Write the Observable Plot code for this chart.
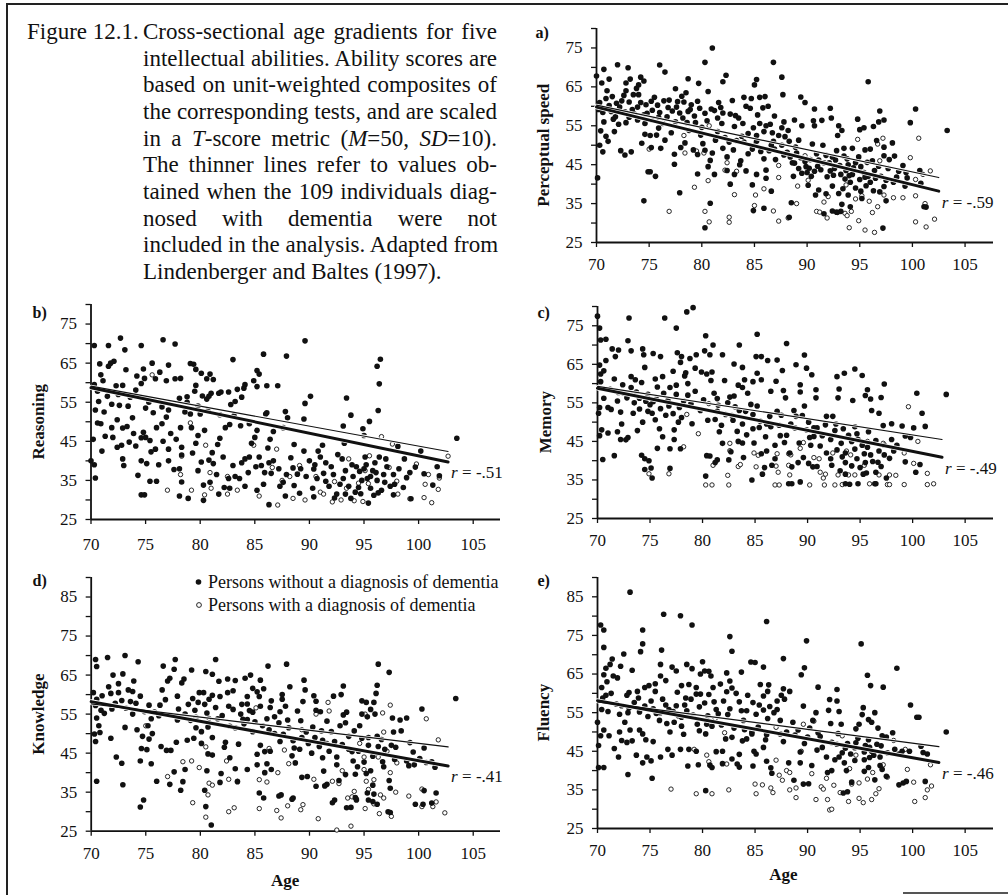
<!DOCTYPE html>
<html><head><meta charset="utf-8">
<script src="https://cdn.jsdelivr.net/npm/d3@7"></script>
<script src="https://cdn.jsdelivr.net/npm/@observablehq/plot@0.6"></script>
<style>
body{margin:0;background:#fff;}
#page{position:relative;width:1008px;height:895px;overflow:hidden;background:#fff;font-family:"Liberation Serif","Times New Roman",serif;color:#111;}
.panel{position:absolute;}
.panel svg{overflow:visible;}
.cap{position:absolute;font-size:23px;line-height:26.67px;}
.cap .ln{white-space:nowrap;text-align:justify;text-align-last:justify;width:354px;}
.cap .ln.last{text-align-last:left;}
.legtxt{position:absolute;font-size:18px;line-height:23px;white-space:nowrap;}
.rule{position:absolute;background:#222;}
</style>
</head><body><div id="page"></div>
<script>
// ---------- shared tick values ----------
const ageTicks = [70, 75, 80, 85, 90, 95, 100, 105];
const scoreTicks80 = [25, 30, 35, 40, 45, 50, 55, 60, 65, 70, 75, 80];
const scoreLabels80 = [25, 35, 45, 55, 65, 75];
const scoreTicks90 = [25, 30, 35, 40, 45, 50, 55, 60, 65, 70, 75, 80, 85, 90];
const scoreLabels90 = [25, 35, 45, 55, 65, 75, 85];
const titles = ["Perceptual speed", "Reasoning", "Memory", "Knowledge", "Fluency"];
const letters = ["a)", "b)", "c)", "d)", "e)"];
const rValues = ["-.59", "-.51", "-.49", "-.41", "-.46"];
const legendLabels = ["Persons without a diagnosis of dementia", "Persons with a diagnosis of dementia"];

// ---------- a) Perceptual speed: [age, score] ----------
const speedNo = [[81,75],[80.3,71.3],[86.8,71.3],[72,70.7],[76,70.6],[73,69.9],[70.7,69.5],[76.5,68.8],[82.3,68],[87.6,67.5],[70,67.8],[71.2,67],[73.2,67],[74.2,67.5],[74.5,66.5],[78.7,67.1],[82,66.3],[85.2,66.9],[95.8,66.3],[79.7,65.9],[70.5,66],[72.8,66],[74,65.5],[85,65.5],[71,64],[72.8,64],[77.5,64.5],[78.5,63.5],[80.6,63.8],[73.5,63],[74,63],[84,62.3],[84.7,62],[85.5,62.3],[86,62.5],[87.7,63],[89.4,62.4],[89.8,61],[92.2,59.5],[90.7,59.3],[96.9,58.8],[100.3,59.3],[99.8,55.8],[97.3,56.5],[94.8,56.7],[92.3,57],[90.6,56.3],[89.5,55],[93,55],[93.3,53.8],[95,54],[95.4,54.5],[96.3,54.8],[96.6,51.2],[98.1,50.6],[97.3,49.5],[96,49],[95.5,48.8],[94.3,49.2],[93.5,49.2],[92.8,48.6],[92.4,47],[93.5,47.2],[93.8,46.5],[97.3,47.3],[98.3,47.2],[97.8,46.3],[99.1,44.8],[100.7,43.5],[100.8,40.2],[101.1,34.2],[101.3,34.1],[99.5,41.6],[99.3,39.5],[97.5,35.7],[97.2,28.7],[96.3,38.3],[95.6,39.6],[95,41.2],[94,42.2],[93,37.6],[93.3,34.8],[93.2,33],[92.4,33.1],[91.6,32.4],[91.8,37.5],[91.9,41.9],[90.8,37.2],[90.7,43.3],[89.9,44.5],[89.5,42.8],[88.7,42],[88.5,35.2],[88.3,31.5],[88.6,45.5],[87.8,47.5],[87.6,50],[87.3,52.5],[87.6,54.5],[86.8,51],[86.9,57.5],[86.5,55.4],[87.8,56],[86.1,55],[85.9,53.5],[85.2,51],[85,50],[84.8,49],[84.4,53],[84.9,54.5],[84.2,60],[84.6,59.5],[83.5,57],[83.1,54.8],[82.9,61.5],[82.7,58],[82,58.3],[81.5,57],[81.5,53.5],[81.3,51.3],[82.2,52],[82.6,50.8],[83.8,52.3],[83.7,46],[82.4,47],[82.4,43.5],[82.7,40],[83.1,42.5],[84.2,43.4],[85.2,42.5],[84.8,39.8],[84.9,33.2],[85.9,33.8],[86.6,38.2],[86.1,41.5],[86.1,43.6],[81.2,42.5],[80.8,35.1],[80.3,28.8],[80.6,44.5],[80.3,48.7],[80.1,50.4],[80,54.6],[80.5,56.3],[79.8,59.5],[79.6,61.3],[79,60.4],[78.3,61.1],[78.1,62.6],[77.6,59.8],[76.9,61.6],[76.4,61.4],[75.5,62.3],[75.2,61.3],[74.7,60.4],[74.2,61],[73.9,59.8],[73.1,61.1],[72.4,61.4],[71.9,60.8],[71.4,58.7],[70.3,61],[70.6,58.4],[70.9,62],[72.7,58.6],[73.6,58],[75.3,59],[76,58.4],[77.2,58.8],[77.9,58.3],[78.7,58.7],[79.3,57.5],[75.3,56.5],[74.6,55.6],[73.9,56.5],[72.8,55.8],[72.1,55.4],[71.7,53.5],[70.4,53.7],[70.9,52.3],[70.3,50],[70.6,48.3],[71.1,51],[72.3,48.6],[72.7,47.5],[73.3,48.3],[74.3,50.5],[74.6,52.8],[75.1,52.5],[75.7,52.6],[75.2,49.4],[75.1,43.2],[74.9,43.2],[75.6,42],[74.5,35.7],[70.1,41.6],[76.1,49.2],[76.5,51.3],[77.1,53.2],[77.4,45.1],[77.4,47.7],[77.9,37.8],[78,49.4],[78.4,50.6],[78.8,53.8],[79.2,48.8],[79.6,47.6],[79.6,42.6],[80.8,46.1],[81.6,61],[81.2,58.9],[83.2,57.6],[83.6,45],[86.4,48.6],[86.6,50],[87.9,52.2],[88.8,45.4],[89.2,44],[90,43],[90.4,42],[91.1,46.2],[91.6,45.5],[92.1,45.5],[92.6,44],[93.1,44.8],[93.7,43.5],[94.3,42.5],[94.6,45.5],[95.1,44.5],[95.4,43],[95.8,42],[96,40.5],[96.4,43.5],[97,42],[97.7,44],[98.7,43.3],[94.1,40.5],[93.4,38.8],[95.2,36.3],[96.9,38],[94.1,34.2],[92.8,32.8],[91.1,38.5],[90.2,44.1],[90.5,50.3],[90.7,55],[91.4,56.4],[92.9,52.5],[91.5,50],[88.9,49.5],[89,48],[88.2,53.8],[88.8,56.5],[85.5,55.6],[86.3,60],[85.8,59.6],[85.2,52.5],[103.3,53.8],[96.8,56],[71.5,62.5],[72.2,59.8],[73.4,59.2],[74.8,58.2],[75.8,60.3],[76.8,59.7],[77.7,61.2],[78.9,59.2],[79.4,55.8],[80.9,59.3],[81.9,55.6],[83.3,51.2],[84,50.8],[85.6,48.4],[86.9,49],[88.1,48.2],[89.4,46.8],[90.9,47.8],[91.8,47.4],[92.7,46.2],[93.9,45],[94.9,47],[96.2,46],[96.8,44.6],[97.5,41],[98.2,40.5],[95.5,41.8],[94.6,39],[93.6,41.3],[92.5,42.3],[91.3,43.7],[90.3,46.3],[89.2,51.3],[88.3,51],[87,46.3],[85.9,46.5],[84.4,47.8],[83,48.8],[82,49.2],[81,48],[79.9,52.6],[78.6,55.8],[77.5,56],[76.3,55.6],[75.9,54.4],[74.5,57.8],[73.1,57.2],[71.6,56.7],[70.7,56],[70.2,59.2],[71.2,60.2],[71.8,57.3],[72.6,62.8],[73.8,64.6],[75.9,57.2],[76.7,57.3],[78.2,57],[80.3,58.2],[81.8,59.7],[83.9,55.6],[85.3,57.8],[86.7,53.2],[88.4,47],[89.8,45.8],[91,44.6],[92.2,43.4],[93.2,42.5],[94.4,44.2],[95.7,45.6],[96.5,41.5],[97.3,39.4],[98.5,41.8],[99.4,43],[95.1,38.2],[93.9,37.2],[92.4,39.5],[90.1,39.7]];
const speedDem = [[80.7,55],[78.3,52.5],[78.4,48],[79.5,48.5],[80.2,48],[75,49],[79.3,39.2],[76.9,33],[80.3,33],[80.7,30.3],[80.6,40.9],[82.6,31.5],[82.6,30.2],[82.2,43.6],[82.4,45.5],[83.1,37.3],[83.3,43.3],[85.1,37.2],[85,34.5],[85.9,38.8],[86.8,33.1],[87.3,30.5],[87.3,44.8],[87.3,41.7],[88.2,31.3],[89,35],[89.1,39.5],[89.8,47.3],[90.1,41],[90.9,33],[91.2,32.8],[91.6,35.4],[91.9,31.3],[92,36.8],[92.9,32.7],[93.6,32.5],[93.8,31.9],[93.7,39.8],[94,28.8],[94.2,33],[94.6,36.2],[94.9,30.6],[94.8,51.5],[95.2,37],[95.5,28.2],[95.9,35.6],[96.2,32.7],[96.4,27.6],[96.9,46],[96.7,34.2],[96.7,50.3],[97.2,51.8],[97.3,37.2],[98.2,36.5],[99.1,36.5],[99.8,46.8],[100.3,41.2],[100.3,37],[100.3,30.3],[100.6,51.8],[101.2,35],[101.3,29],[101.7,43.4],[102.1,31],[101,42.5]];
const speedFitAll = [[70, 59.8], [102.5, 38.2]];
const speedFitNoDem = [[70, 60.3], [102.5, 41.7]];

// ---------- b) Reasoning ----------
const reasonNo = [[70.3,69.5],[71.6,69.5],[72.7,71.4],[73.1,68.4],[74.6,69.5],[76.6,71],[77.7,69.9],[89.6,70.7],[83,65.9],[85.8,67.3],[87.9,66.8],[96.5,66],[96.2,64.2],[96.4,59.7],[96.3,52.9],[93.4,56.1],[93.8,51.7],[93.1,48.9],[95.5,50.1],[94.9,48.2],[95,46.5],[89.6,54.7],[90.1,56.5],[89.5,50.7],[87.1,59.2],[86.1,59.2],[87.8,52.6],[86,52],[85.2,63.1],[85.4,62.2],[84.9,60.5],[85.2,59],[84.1,59.5],[84,58.6],[83.4,58.3],[83.8,56.3],[83.2,55.2],[82.8,54.4],[81.9,57.6],[81.7,57.3],[81.2,60.8],[80.6,61],[80.1,62.4],[79.6,63.4],[79.4,64.7],[79.1,64.9],[80.9,62.2],[79.6,59.3],[79.5,57.8],[80.2,56.6],[80.6,55.8],[79.8,54],[78.8,55],[78.1,56],[77.7,61],[76.9,60.5],[77.1,64.5],[76.3,62.7],[75.9,61],[75.6,65],[74.8,63.5],[74.9,61.1],[74.6,59.8],[74.2,61.7],[74.1,58.1],[73.2,63.3],[72.9,59.3],[72.3,59.2],[72.1,65.5],[71.8,65],[71.6,64.2],[70.8,64.8],[70.9,62],[71.1,60.5],[70.3,59.5],[70.7,55.2],[70.4,53],[70.6,49.7],[70.9,49.5],[70.2,45.5],[70,40],[70.3,39],[70.4,35.6],[71,42.5],[71.3,46.3],[71.9,48.5],[72,46],[72.4,43.5],[72.8,44],[72.9,48.4],[73.3,48.8],[73.8,51],[73.4,54],[72.6,54.2],[71.9,54.5],[72.9,40.5],[73,38.8],[73.5,44.8],[74.1,43.8],[74.6,45.9],[74.8,47.3],[75,46],[74.3,36.3],[74.6,31.3],[74.9,31.3],[74.6,40],[75.1,39.3],[75.5,42.3],[75.9,43],[75.4,34.8],[76,34.8],[76.2,39],[76,48.5],[76.5,49.5],[75.7,52.3],[75.3,55],[77.1,53],[77.3,47],[77.1,43],[77.1,40],[77.6,37.8],[78.1,38],[78.3,41.5],[78.3,43.5],[78.2,48.5],[78.6,52.5],[79.2,48.5],[79.6,44.5],[79.8,46.5],[78.3,34.6],[78.1,31],[78.9,30.4],[79.8,37.5],[80.1,39.7],[80.3,33.8],[80.3,29.9],[80.9,34.5],[81.2,39.3],[81.1,42.1],[81.6,44.2],[81.8,45.8],[82.3,48.5],[82.1,41],[82.2,33.2],[82.7,33],[83,38.8],[83.2,36],[83.6,35.5],[83.7,49],[84.1,40.5],[84.5,41],[84.7,44.5],[85,46],[85.2,47.8],[85.4,41],[85.6,38.8],[85.9,37],[85.8,34],[85.2,32.5],[86.3,28.8],[86.5,36.8],[86.7,40],[87.3,33.5],[87.6,34.5],[87.9,36.5],[87.6,48.5],[88.3,40.8],[88.6,33.7],[88.9,36.6],[89.2,38],[89.5,42.5],[90,40],[90.4,37.9],[90.4,30.8],[90.7,35.5],[91,41],[91.2,44],[91.5,39.5],[91.8,33.5],[92.2,36.5],[92.5,31.5],[92.8,34],[93,40.5],[93.3,37.5],[93.6,33.5],[93.8,30.4],[94,36],[94.2,32],[94.5,33.2],[94.7,31.6],[95,38],[95.1,41],[95.3,35.5],[95.4,29.2],[95.6,33],[95.8,37.5],[96,39.5],[96.2,35],[96.4,41],[96.6,32.5],[96.9,34.5],[97.1,38.5],[97.4,33.5],[97.7,31.3],[97.7,36.5],[98.2,38],[98.7,40.5],[98.1,43.7],[99.2,37],[99.3,30.3],[100.2,42.5],[101.3,33.8],[101.7,38.5],[101.9,36.2],[103.5,45.8],[92.3,30.5],[93.2,44.5],[86.2,43.3],[86.7,47.5],[88,51],[86.1,52.3],[82.7,49.3],[81.8,51.8],[81,57.3],[80.8,56.5],[82.6,57.6],[80.4,47.8],[78.8,56.4],[78.2,61.1],[94.3,38.5],[95.2,39],[96.1,37],[96.8,36.5],[95.6,36],[94.8,35],[93.1,35.5],[92,38.5],[91.3,36.8],[90.5,39],[89.7,36],[88.5,38.2],[87.2,38],[86.3,39.5],[85.1,38.5],[84.4,37],[83.8,39.5],[82.6,35.5],[81.5,36.5],[80.8,40.2],[79.3,42],[77.8,45.5],[76.6,45],[75.4,45.2],[73.9,47],[72.4,50.5],[71.2,52.5],[76.5,53.8],[79.1,52],[80.7,52.8],[97.8,34],[98.6,33.2],[96.3,31.8],[93.9,39],[92.6,41.6],[90.8,42.5],[70.6,57.8],[71.5,56.5],[72.5,57],[73.6,56.3],[75,53.5],[76.9,51.2],[80,52],[83.1,51.5],[84.5,49.5],[86.4,45.5],[88.6,44.2],[90.3,33],[91.5,34.8],[93.3,31.5],[94.6,37.3],[95.9,31.2],[97,40.5],[98.9,35.7],[99.7,38.4],[100.5,36.7],[89.1,31.7],[87.8,31],[84.1,33.5],[81.7,31.5]];
const reasonDem = [[75.6,62],[79.1,49.7],[78.3,41.2],[78.2,36.5],[77,32.5],[79.2,32.5],[80.4,31.3],[80.5,44],[80.9,37],[81,33],[82.5,36],[82.5,31.5],[83.4,32.5],[84.9,44],[85.4,31],[86.6,38.3],[87,43],[87.5,35],[87.1,28.7],[88.2,36],[88.5,30.4],[89.1,38.8],[89.6,30],[90.6,36],[91,32],[91.3,31.5],[92.1,29.5],[92.3,34.7],[92.9,30],[93.4,33],[93.6,40.5],[94.1,29.8],[94.5,34.3],[94.9,29.6],[95.1,37.5],[95.4,34.2],[95.5,41.3],[96.6,46.2],[97.3,38.3],[97.6,44.3],[98,34.8],[98.1,31.5],[99.2,30.3],[99.8,39.2],[100.5,30.6],[100.6,34],[100.9,36.5],[101.2,29.3],[101.8,32.7],[101.9,35.6],[102.7,41.2]];
const reasonFitAll = [[70, 58.7], [102.7, 39.7]];
const reasonFitNoDem = [[70, 59.1], [102.7, 42.4]];

// ---------- c) Memory ----------
const memoryNo = [[70,77.5],[73,77],[76.4,77],[78.5,78.6],[79.1,79.7],[77.5,74.4],[70.2,74.4],[70.3,71.3],[70.8,71.5],[72.9,71.1],[71.4,69],[72,68.7],[73.2,68.5],[74.3,69],[74.4,67.5],[75.3,67.8],[76,67],[77.6,68],[78,67],[78.8,66.5],[79.4,67.5],[80.2,68.5],[80.7,67.5],[80.3,72.4],[81,70],[81.9,67.5],[83,65.1],[83.8,64.2],[83.5,70],[85.2,72.8],[85.1,67],[85.6,67],[86.2,66],[87.1,66.1],[88,70.4],[88.9,64.9],[89.7,67.4],[89.9,64],[90.4,62.3],[90.8,58.4],[90.8,56.3],[89.3,59.7],[89.3,57.8],[89.7,54.2],[87.9,56.3],[87.7,58.2],[87.6,63.4],[87,60.6],[86.5,58],[85.6,61],[85.2,62.7],[84.8,60.5],[92.8,61.8],[93.5,62.7],[94.5,63.8],[95.2,62.1],[93,58.6],[92.9,56.3],[94.3,55.6],[95.7,58.4],[95.5,56.9],[96,56],[97.3,59.9],[97,56.4],[96.1,53],[96.8,52.3],[97.2,49.1],[98,49.6],[99,49],[100.1,48.5],[100.4,57.5],[100.9,52.3],[101.2,48.9],[103.2,57.2],[99.3,46.4],[98,45.5],[98.2,42.5],[99.3,39.7],[100.7,39],[100.3,37],[97.3,44],[97.3,41.5],[97,38.5],[96.5,37],[96.7,39.6],[97.5,35.5],[96.5,34],[96,41.5],[95.7,43.5],[95.4,41.8],[95.6,36.8],[95.3,36.5],[95.5,39.5],[94.7,40.5],[94.5,43],[94.8,45.5],[94.5,48.8],[94.7,47],[93.9,46.6],[93.6,42],[93.2,44.5],[93.6,39.5],[93.6,36.5],[94,33.9],[93.6,34],[94.8,34],[96.4,34],[88.5,34],[88.2,34],[89.3,34.5],[92.6,47.8],[92.7,49.5],[92.4,51.5],[91.8,51.5],[92.2,45.5],[91.8,42],[92.2,40.5],[91.4,46.5],[90.9,48.5],[90.6,48.5],[90.1,50],[89.9,48],[90.9,38.5],[90.5,38.4],[90.1,39.3],[89.6,40.8],[89.1,39.5],[88.5,38.4],[87.8,44.7],[88.3,42],[87.4,46.5],[87.3,49.2],[88.4,49.5],[88.8,48.5],[86.4,51.5],[86.5,48.8],[86.9,40.5],[86.6,38.8],[86.1,42.5],[85.6,41.8],[85.9,38.2],[85.7,36.5],[84.7,35],[84.9,44.6],[85.4,48.6],[85.5,50.2],[84.8,52],[85.2,54.2],[84.6,54.6],[84.3,57.5],[84.8,48.3],[83.8,49.5],[83.4,45],[83.8,44.6],[83.9,40.8],[82.7,42.3],[82.5,40.2],[81.4,40.2],[81.2,39.5],[80.7,41.2],[80.4,41.3],[80.3,36],[81.9,44.5],[81.6,47.5],[81.8,49.2],[81.4,52.8],[82.2,52],[82.8,51.7],[82.9,50.5],[83.1,54],[83.5,53],[82.4,55],[82.6,56.5],[81.4,56.1],[81.1,57.5],[80.8,60.8],[80.4,62.5],[79.9,63],[79.3,64],[78.3,62],[78.6,60],[79.3,58],[78.6,57],[78.2,55.5],[77.8,53.8],[77.2,52.2],[77.7,50],[77.3,48],[77.3,45.5],[76.9,43.1],[77.9,43.1],[76.9,38],[75.2,35.5],[75.1,38.1],[74.5,37.7],[74.5,40.5],[74.9,40],[74.2,41.4],[75.7,43.2],[76.2,46.2],[75.9,48.3],[75.5,50.6],[74.8,52.8],[74.3,50],[73.8,47.8],[72.9,46],[72.7,45.4],[72.2,45.5],[71.6,41.3],[70.5,40.3],[70.2,46.5],[70.4,48],[71,47.2],[70.1,52.3],[70.2,53.8],[70.6,56.2],[71,53.8],[71.3,53.3],[71.9,55.5],[72.2,52.6],[72.3,49.5],[71.9,47.5],[73.4,52.3],[73.5,55],[74,56.2],[74.6,55.4],[75,54.5],[75.6,56],[76.3,57.5],[76.7,55.6],[72.5,57.5],[72.4,59.7],[71.6,61.2],[70.3,60.5],[70.3,62.5],[70.6,63.3],[70.2,64.8],[70.8,66],[71.7,67],[73.2,61.8],[73.6,61],[74.2,60.3],[74.5,64.2],[75.5,61.2],[76.2,61.8],[76.9,59],[77.5,59.6],[75.7,59.1],[77.2,63.2],[77.9,65.5],[78.4,62.8],[80.9,63],[82.1,60.8],[83.4,59.6],[83.8,59],[84,61],[72.8,56.3],[73.7,57.8],[74.8,57.2],[75.3,55.3],[76,53.5],[76.8,54.2],[78,51.2],[79,49.6],[79.8,53],[80.5,50.5],[81.2,50.7],[83.3,47.6],[84.2,46.7],[86,46.2],[86.9,44],[88,46.6],[89.2,44.6],[90.3,44],[91.2,43.8],[92.8,42.8],[93.3,41],[94.2,38.7],[95,38.2],[96.2,39.8],[97.8,40.6],[95.8,47.5],[96.5,45.2],[90.6,46.3],[89.5,51.7],[88.7,53],[87.5,51.8],[71.2,58.5],[72,57.7],[73.2,59],[74,53.4],[75.2,52.3],[76.5,51.8],[77.5,57.2],[78.9,54.8],[80.1,55.8],[81.5,54.4],[83,56.8],[84.1,52.8],[86.1,49.5],[87.1,52.8],[88.9,51.5],[90.2,46],[91.7,49.3],[93.4,48.3],[94.2,45],[95.2,44],[96.8,42.5],[98.5,44],[99.8,46],[93.1,37.4],[92.3,38.8]];
const memoryDem = [[74.9,36.6],[76.8,36.6],[78.2,43.6],[78.5,52],[79.6,47],[80.3,33.7],[80.9,33.7],[81,38.8],[80.6,54.8],[82.5,33.7],[82.4,36.2],[82.6,44.5],[82.6,42.6],[83.4,38.5],[83.6,39],[84.9,42],[85.1,38.4],[85.3,41.4],[87.1,41.8],[87,38.6],[87.2,37],[86.9,33.7],[87.3,33.7],[88.2,41.8],[88.4,41.5],[88.2,38.8],[88.3,36.3],[89.3,43.2],[89.6,44.7],[90.2,33.7],[90.6,40.8],[91.1,40.5],[91.2,37],[91.5,35.5],[91.7,36.5],[91.6,33.7],[92.6,33.7],[92.4,42],[92.9,36.3],[93.3,33.8],[93.9,36.3],[93.7,42.5],[94.1,41.5],[94.2,38.6],[94.5,36.3],[95.4,38.8],[95.7,45],[95.9,34],[96.8,36.3],[97.2,44.5],[97.8,36.3],[98.4,36.2],[97.6,33.8],[97.8,33.8],[99.2,33.8],[99.2,42],[99.6,54],[100.1,39.3],[100.5,45],[101.4,36.7],[101.4,33.8],[102,34]];
const memoryFitAll = [[70, 58.8], [102.8, 40.9]];
const memoryFitNoDem = [[70, 59.3], [102.8, 45.5]];

// ---------- d) Knowledge ----------
const knowNo = [[71.5,69.5],[70.4,69],[70.5,67.2],[73.1,70],[74.3,68.4],[76.6,67.3],[77.6,66.5],[77.7,69],[79.2,66.3],[81.4,69],[80.5,65.9],[81.1,65.2],[84.6,65],[86.2,67.3],[87.9,67.8],[89.5,63.7],[96.3,67.8],[97.3,65.7],[96.2,62.4],[96.1,60.3],[93.1,62.2],[92.2,59.6],[92.9,60],[89.6,61.2],[90.4,59.7],[90.6,58.3],[89.4,58.2],[88.2,62],[87.5,60],[87.5,58.8],[85.5,63.7],[85.8,61.5],[85.4,59.5],[85.5,57],[84.8,55.5],[84.3,53.6],[85,53],[84.8,50.5],[84,52.5],[85.5,47],[85.9,45.4],[85.2,44.7],[86.4,45.5],[86.1,42.3],[85.2,42],[86.3,51],[87.2,52.8],[87.6,49.8],[87.3,48],[86.5,40.8],[85.9,40],[85.4,34.8],[85.8,33.5],[87.2,34],[88.5,33.5],[88.4,44.3],[88.7,42.5],[88.6,46.3],[89.1,46],[89.8,39],[89.2,53.3],[89.7,50.4],[90.6,56],[91,55.6],[90.5,49],[91.1,50.7],[91.2,48.3],[91.2,43.8],[91.3,40.4],[91.6,37],[91.4,36.6],[90.6,36.5],[92.3,33],[92.1,32.3],[92.5,44],[92.5,42],[92.8,52],[93.1,54.8],[93.4,55.5],[93.6,49.3],[93.3,39.5],[93.8,31.1],[94.2,33.6],[94.2,39.6],[94.5,45.5],[94.6,52],[94.8,55],[94.8,58.4],[95.2,58],[95.3,54.3],[95.6,56.2],[96,55],[95.9,58],[96.2,49.3],[96.9,46],[96.3,46.7],[95.4,49],[95.4,47],[95.6,40.5],[95.2,39.8],[95.3,34.8],[95.4,33],[95.9,34.5],[95.8,32.6],[96.2,31.9],[96.8,41.5],[97.3,38],[97.4,36],[97.2,30],[97.5,47],[97.6,54],[97.7,50.4],[98.3,53.5],[98.4,50.7],[98.9,54],[99.2,47.7],[99.6,42],[99.1,41.8],[100.3,56.3],[100.5,46.3],[100.4,31.9],[100.5,35.4],[101.2,42.8],[101.6,34.8],[101.5,41.4],[101.2,32.2],[103.4,59],[89.3,38.8],[88.1,51.5],[87.3,55.6],[86.4,56.7],[86.5,58.4],[85.2,60.7],[84.8,61.6],[84.1,64.2],[84.3,59.5],[83.7,55],[83.2,51.5],[83.5,47.3],[83.9,53.7],[82.7,51.9],[82.6,57],[82.5,60.5],[83,61],[83.2,63.6],[82.5,64],[81.7,63.4],[81.1,59.8],[81.4,56.7],[81.6,53.8],[80.8,58.8],[80.4,57.5],[80.6,55.3],[80.3,60.5],[79.9,60.5],[79.3,59],[78.9,57.5],[79.5,56],[78.6,55],[78,56.3],[78.5,64],[78.3,63],[77.2,64.2],[77,63.5],[76.5,61.2],[76.3,57.3],[75.8,55.5],[75.5,53.8],[75.2,52],[75.6,50],[75.3,48.6],[75.1,45.9],[74.6,46.2],[74.5,43],[74.7,49.3],[74.2,51],[73.8,55],[74.1,57.8],[74.5,59.6],[73.8,60.8],[73.9,63.5],[73.4,61.2],[72.5,60.5],[72.9,65.3],[72,65],[72.5,62.8],[71.6,62],[71.9,56.3],[71.2,55.2],[70.5,58.8],[70.2,60.5],[70.4,57.2],[70.5,54],[70.7,52],[70.3,49.9],[70.4,48],[70.8,50.3],[70.5,37.8],[71.8,48.8],[72.3,44],[72.8,42.4],[73.1,51.6],[72.9,36.9],[74.5,31.2],[74.8,33],[75.5,42.3],[76,37.8],[76.4,46.7],[76.9,45.7],[77.3,45.7],[77.2,37],[77.6,40.2],[77.8,47.8],[78.2,35.5],[78.4,37.7],[78.6,40.8],[78.8,48.3],[79.4,48.8],[79.6,51.5],[80.1,50.5],[80.1,47.5],[80.7,44.8],[80.6,40.5],[80.4,35.5],[80.5,31.3],[81,26.6],[81.1,44.5],[81.1,49],[81.8,37.5],[81.9,39.8],[82.2,46.5],[82.3,47.8],[82.7,43.8],[83.2,41],[83.4,37.7],[84.3,40.8],[87.4,34.3],[88.4,33.2],[93.4,31],[94.3,33],[97.4,29.8],[99.7,31.9],[100.7,42.6],[92.7,38],[72.2,57.8],[73.2,56.5],[74.9,55.6],[76.2,54.6],[77.3,54.7],[77.9,53.5],[79.1,53.4],[79.8,58],[81.8,59.5],[83.8,57.5],[84.5,55.9],[86.1,53.8],[86.8,50],[88.5,48.2],[89.9,47.5],[90.2,45],[91.8,45.5],[93,47.2],[93.9,45.4],[94,43],[95,42.7],[95.8,44.2],[96.7,42.8],[97.8,43.4],[98.9,43],[92,50.5],[93.3,52.8],[94.1,50.7],[91.6,53.2],[90.3,51.7],[88.9,55.8],[87.8,57],[71,59.7],[71.8,60.3],[70.9,56],[72.8,58.5],[73.6,58.2],[75.3,57.3],[76.8,58.7],[77.9,59.6],[79.6,54.2],[80.7,51.7],[82,54.6],[83,56.2],[84.3,57.6],[85.7,52],[86.8,54.3],[88,53.5],[89.3,49],[90.9,46.7],[92.3,48],[93.6,46],[94.8,48.8],[96.6,48.5],[97.9,46.5],[99.5,45.3],[100.1,43.6],[94.4,41.5],[95.8,36.8]];
const knowDem = [[75,52],[77,39],[78.4,42.8],[79.2,43],[79.3,32.3],[79.9,41.3],[80.5,46.6],[80.5,28.6],[80.8,37.3],[81.1,36.8],[80.7,34.3],[80.8,53.9],[82.4,43],[82.6,38.3],[82.6,30],[83.1,31],[83.4,37.8],[85.1,56.6],[85.4,38.2],[86.1,37.6],[85.4,30.8],[86.3,46.2],[87.1,40],[87,30.3],[87.4,28.4],[87.7,45.8],[88,31.5],[88.1,42.3],[89.2,30.5],[89.4,31.8],[89.3,51],[90.6,55],[90.4,38.3],[90.8,28.2],[91.7,58],[91.8,55.8],[91.6,47.5],[92.1,37.8],[92.7,37.2],[92.5,25.3],[93,40.5],[93.5,33.5],[93.8,26.3],[93.9,33.8],[94.1,35.2],[94.3,33.3],[94.6,47.5],[95,44],[95,40.8],[95.2,37.8],[95.1,30.8],[95.1,55],[95.4,35.7],[95.9,38.2],[95.9,32],[96.4,29.5],[96.5,34.3],[96.8,33.5],[96.7,55.3],[96.3,44],[96.8,50.4],[97.1,45.5],[97.4,57.3],[97.5,28.8],[97.4,40],[97.9,35],[98,42.5],[99.1,34],[100.3,35.8],[100.3,31.3],[100.7,53.8],[101.3,31.3],[101.6,32.5],[101.8,48.4],[102.4,29.7]];
const knowFitAll = [[70, 58.2], [102.7, 41.7]];
const knowFitNoDem = [[70, 57.6], [102.7, 46.6]];

// ---------- e) Fluency ----------
const fluencyNo = [[73.1,86.2],[76.3,80.5],[77.9,80.1],[79,77.7],[86.1,78.6],[70.3,77.7],[70.6,76.4],[74.3,76.4],[74.3,72.8],[74.1,70.8],[70.6,71.9],[82.6,74.7],[82.8,70.9],[89.9,73.6],[95.1,72.8],[76.1,71.2],[72.5,70.2],[71.4,68.9],[71.2,67.5],[70.8,66.5],[72.2,67],[73.3,66],[76,67.5],[77.1,66.8],[77.5,65.8],[78.5,67.5],[79,66.4],[80,68.2],[80.6,65.7],[80.8,64.5],[79.8,65],[78.7,62.3],[79.4,61.5],[78,62],[77.6,60.3],[76.5,63.3],[76,64.5],[74.9,62],[74.5,61.5],[75.5,62.5],[75.5,60.5],[73.8,60.5],[73,60.2],[72.8,59.5],[71.5,64.5],[71.9,64],[70.9,63],[70.6,64.8],[70.4,61.5],[70.5,58.8],[70.8,59.5],[71.3,60],[70.4,55.8],[70,52.5],[70.6,50.5],[70.3,49],[70.1,46.5],[70.1,40.8],[70.6,40.8],[71.1,49],[71.6,45.7],[72,43.5],[72.3,47.8],[72.8,47.3],[72.1,50],[72.1,54.6],[72.6,52.5],[73.1,50.5],[73.3,47.7],[72.9,39],[73.7,44],[74,50.5],[74.3,49.5],[74.6,48],[74.3,42],[74.7,43.5],[75.1,42.5],[75.2,38],[75.3,47.5],[75.9,53],[76,55],[76.6,52.2],[76.9,50],[76.7,45.5],[77.1,44],[76,43.5],[77.3,52.5],[77.7,54.2],[78,51.5],[78.2,49.4],[77.9,45.5],[78.7,45.5],[79.4,45],[78.6,41.2],[79.7,50.3],[80.3,49.5],[80.4,52],[80.7,41.4],[79.6,41.5],[80.3,34.8],[80.9,40.8],[81.3,44.9],[81.9,45],[81.9,41.8],[82.2,48.2],[82.8,48.6],[82.8,43],[83.3,41.7],[83.5,40.9],[83.5,44.2],[83.8,47.7],[84.2,48.2],[84.7,49.5],[84.8,41.2],[84.9,45],[85.1,44.3],[85.8,46],[86.1,42.4],[86.5,40.7],[86.6,39.3],[86.1,49.3],[87.4,49.5],[87.7,47.5],[88.2,42],[88.7,37.5],[88.8,49.2],[89.1,50.5],[89.3,44.8],[89.3,42],[89.6,36.5],[90.1,36.6],[90.4,41.3],[90.9,45.3],[91.4,46],[91.8,43.5],[91.9,39.5],[92.3,40],[92.6,42.8],[92.8,46.8],[93.3,44.6],[93.5,42],[93.7,40],[93.4,34.2],[93.8,34.5],[94.2,37],[94.5,42.6],[94.5,45.9],[94.8,48.4],[94.6,50.8],[94.9,52],[95.2,54.5],[95.3,56.3],[95.8,53.2],[96.1,52.5],[96.4,55],[95.7,64.7],[96,62],[97.2,61.6],[96.7,51],[95.8,48],[95.5,46.5],[96.1,45],[95.4,44.8],[95.4,42.8],[96.3,44],[96.9,43.5],[96.9,41.3],[97.1,40.3],[96.4,37.6],[95.8,40.8],[95.4,39.8],[97.5,38.5],[97.5,48.7],[97.1,49],[98.1,49.8],[98.5,66.5],[99,45],[99.7,45],[99.1,36.8],[99.4,37.2],[98.7,36.3],[99.8,57],[100.4,53.8],[100.6,53.8],[100.8,46.3],[101,44.7],[101.2,37.2],[101.4,44.3],[103.2,50],[92,55.6],[92.1,58.4],[92.8,61],[92.8,58],[93,55.3],[93.2,52],[92.2,52.2],[91,61.6],[90.8,55],[90.5,53],[90.2,51],[89.6,56.7],[89.4,64.8],[89.7,66.6],[87.7,69],[87.7,61.2],[87.5,59.5],[88.3,60.5],[87.8,58.5],[87.1,58],[86.8,55],[87.4,53],[86.2,53.5],[85.8,55.7],[85.4,57],[85.8,59.3],[86.3,62.2],[85.5,62.3],[85.8,66.8],[85,68],[84.6,68.1],[84.3,59.5],[84.8,57.6],[84.2,55.5],[83.9,53],[83.7,55.5],[83.2,60],[82.8,61.4],[82.6,56],[82.3,60.4],[82,58],[81.7,62.4],[81.1,57.8],[80.6,59.7],[79.8,59.8],[79.4,59.8],[78.9,58.5],[78.4,58.8],[78.5,55.5],[77.5,56.8],[76.5,57],[75.3,56],[74.5,56.7],[73.5,57.6],[72.9,55],[83.7,65.5],[84.7,50],[85.3,51.3],[81.5,54.7],[80.9,51.5],[79.5,52],[80.2,65.8],[82.3,65.3],[82.6,63.2],[81,61.5],[71.8,57.2],[73,56.2],[74,55.2],[74.8,54],[75.6,54.8],[76.8,55.8],[78,53.8],[79.1,54.4],[80.5,54.2],[81.8,51.8],[83,51],[84,50.6],[86,48],[88,50],[90,48.7],[91.2,48.8],[92.3,47.3],[93.8,47],[94.1,44.3],[95.9,43.4],[97.6,44.6],[96.6,46.8],[98.3,45.5],[71,55.3],[72.3,56.8],[73.9,58.8],[75.1,58],[76.2,58.5],[77.2,55.3],[78.3,57],[79.7,56.5],[80.2,57.5],[81.3,55.8],[82.4,54.5],[83.5,57.8],[85.1,54.6],[86.4,56.6],[86.2,60.5],[87.1,55.8],[88.6,52.5],[89.7,47],[91,49.8],[92.9,49.6],[93.6,45.8],[94.6,47.2],[95.9,46],[97,46.4],[98.7,44.3],[93,43.5]];
const fluencyDem = [[77,35.2],[79.4,34],[80.9,34],[79.2,45.5],[80.4,44],[80.6,42.3],[81.2,53.5],[82.1,49.8],[82.3,41.7],[82.5,35],[85,36.5],[85.1,34],[85.7,36.3],[86.5,35.5],[86.7,34.3],[87,51.2],[87,42.7],[87.3,38.8],[87.6,37.5],[88,40],[88.3,39.5],[88.3,35],[88.9,33],[88.9,35.5],[89.4,45],[89.6,52],[90.4,39.2],[90.6,52.8],[90.8,32.5],[91.3,35.8],[91.8,38],[91.5,35.2],[91.9,32.5],[92.1,29.8],[92.3,30],[92.5,36.2],[93.1,34.3],[93.3,49],[94,40.5],[93.9,32],[94.2,36.5],[94.6,44],[94.9,36.8],[94.9,32.8],[95.3,31.7],[95.7,37.8],[96.2,39.5],[96.1,32.5],[96.5,34],[96.8,35.3],[97.2,41.5],[97.6,38.3],[98.2,47.8],[99.3,45.5],[99.5,40.3],[100.1,37],[100.2,32],[101.2,33],[101.4,35],[101.8,36],[101.7,41.5]];
const fluencyFitAll = [[70, 58.1], [102.5, 42.1]];
const fluencyFitNoDem = [[70, 57.8], [102.5, 46.2]];

// ---------- drawing ----------
const page = document.getElementById("page");
const X = d => d[0], Y = d => d[1];
const INK = "#111";

function drawPanel(c) {
  const end = c.fitAll[c.fitAll.length - 1];
  const svg = Plot.plot({
    width: c.width, height: c.height,
    marginLeft: c.mL, marginRight: c.mR, marginTop: c.mT, marginBottom: c.mB,
    x: {domain: c.xDomain},
    y: {domain: c.yDomain},
    style: {fontFamily: "'Liberation Serif', 'Times New Roman', serif", fontSize: "17px", color: INK, background: "transparent", overflow: "visible"},
    marks: [
      Plot.axisX({ticks: ageTicks, tickSize: 5, tickPadding: c.xPad, tickFormat: d => String(d), label: null, strokeWidth: 1.3}),
      Plot.axisY({ticks: c.yTicks, tickSize: 5, tickPadding: 9, tickFormat: d => c.yLabels.includes(d) ? String(d) : "", label: null, strokeWidth: 1.3}),
      Plot.ruleX([70], {stroke: INK, strokeWidth: 1.8}),
      Plot.ruleY([25], {stroke: INK, strokeWidth: 1.8}),
      Plot.dot(c.dem, {x: X, y: Y, r: 2.2, fill: "white", stroke: INK, strokeWidth: 0.9}),
      Plot.dot(c.no, {x: X, y: Y, r: 2.8, fill: INK, stroke: "none"}),
      Plot.line(c.fitNoDem, {x: X, y: Y, stroke: "white", strokeWidth: 2.8}),
      Plot.line(c.fitAll, {x: X, y: Y, stroke: "white", strokeWidth: 4.6}),
      Plot.line(c.fitAll, {x: X, y: Y, stroke: INK, strokeWidth: 3}),
      Plot.line(c.fitNoDem, {x: X, y: Y, stroke: INK, strokeWidth: 1.2}),
      Plot.text([end], {x: X, y: Y, text: () => "r", dx: 3, dy: 11, textAnchor: "start", lineAnchor: "middle", fontStyle: "italic", fontSize: 17}),
      Plot.text([end], {x: X, y: Y, text: () => "= " + c.r, dx: 14, dy: 11, textAnchor: "start", lineAnchor: "middle", fontSize: 17}),
      Plot.text([c.title], {frameAnchor: "left", y: () => c.titleY, dx: c.titleDx, rotate: -90, textAnchor: "middle", lineAnchor: "middle", fontWeight: "bold", fontSize: 17}),
      Plot.text([c.letter], {frameAnchor: "top-left", dx: c.letterDx, dy: c.letterDy, textAnchor: "start", lineAnchor: "middle", fontWeight: "bold", fontSize: 16}),
      ...(c.age ? [Plot.text(["Age"], {x: () => 87.5, frameAnchor: "bottom", dx: c.ageDx, dy: c.ageDy, lineAnchor: "middle", fontWeight: "bold", fontSize: 17})] : [])
    ]
  });
  const div = document.createElement("div");
  div.className = "panel";
  div.style.left = c.left + "px";
  div.style.top = c.top + "px";
  div.appendChild(svg);
  page.appendChild(div);
}

drawPanel({left: 500, top: 0, width: 508, height: 300, mL: 96, mR: 15, mT: 28, mB: 58, xDomain: [70, 107.7], yDomain: [25, 80], yTicks: scoreTicks80, yLabels: scoreLabels80, xPad: 10,
  no: speedNo, dem: speedDem, fitAll: speedFitAll, fitNoDem: speedFitNoDem, r: rValues[0], title: titles[0], titleY: 50, titleDx: -53, letter: letters[0], letterDx: -61, letterDy: 4});
drawPanel({left: 0, top: 290, width: 505, height: 300, mL: 90.5, mR: 5, mT: 14, mB: 71, xDomain: [70, 107.5], yDomain: [25, 80], yTicks: scoreTicks80, yLabels: scoreLabels80, xPad: 13,
  no: reasonNo, dem: reasonDem, fitAll: reasonFitAll, fitNoDem: reasonFitNoDem, r: rValues[1], title: titles[1], titleY: 50, titleDx: -52.5, letter: letters[1], letterDx: -58.5, letterDy: 8});
drawPanel({left: 500, top: 290, width: 508, height: 300, mL: 97, mR: 15, mT: 16, mB: 72, xDomain: [70, 107.7], yDomain: [25, 80], yTicks: scoreTicks80, yLabels: scoreLabels80, xPad: 10,
  no: memoryNo, dem: memoryDem, fitAll: memoryFitAll, fitNoDem: memoryFitNoDem, r: rValues[2], title: titles[2], titleY: 50, titleDx: -52, letter: letters[2], letterDx: -60, letterDy: 6});
drawPanel({left: 0, top: 570, width: 505, height: 325, mL: 90.7, mR: 5, mT: 7, mB: 64.3, xDomain: [70, 107.5], yDomain: [25, 90], yTicks: scoreTicks90, yLabels: scoreLabels90, xPad: 11,
  no: knowNo, dem: knowDem, fitAll: knowFitAll, fitNoDem: knowFitNoDem, r: rValues[3], title: titles[3], titleY: 55, titleDx: -52.7, letter: letters[3], letterDx: -58.7, letterDy: 3, age: true, ageDx: 3, ageDy: 49});
drawPanel({left: 500, top: 570, width: 508, height: 325, mL: 97, mR: 15, mT: 7, mB: 67, xDomain: [70, 107.7], yDomain: [25, 90], yTicks: scoreTicks90, yLabels: scoreLabels90, xPad: 10,
  no: fluencyNo, dem: fluencyDem, fitAll: fluencyFitAll, fitNoDem: fluencyFitNoDem, r: rValues[4], title: titles[4], titleY: 55, titleDx: -54, letter: letters[4], letterDx: -60, letterDy: 3, age: true, ageDx: 2, ageDy: 46});

// ---------- caption ----------
const fig = document.createElement("div");
fig.className = "cap";
fig.style.left = "27px"; fig.style.top = "19px";
fig.textContent = "Figure 12.1.";
page.appendChild(fig);
const capLines = [
  "Cross-sectional age gradients for five",
  "intellectual abilities. Ability scores are",
  "based on unit-weighted composites of",
  "the corresponding tests, and are scaled",
  "in a <i>T</i>-score metric (<i>M</i>=50, <i>SD</i>=10).",
  "The thinner lines refer to values ob-",
  "tained when the 109 individuals diag-",
  "nosed with dementia were not",
  "included in the analysis. Adapted from",
  "Lindenberger and Baltes (1997)."
];
const cap = document.createElement("div");
cap.className = "cap";
cap.style.left = "143px"; cap.style.top = "19px";
cap.innerHTML = capLines.map((t, i) => `<div class="ln${i === capLines.length - 1 ? " last" : ""}">${t}</div>`).join("");
page.appendChild(cap);

// ---------- legend (panel d) ----------
const legSvg = document.createElementNS("http://www.w3.org/2000/svg", "svg");
legSvg.setAttribute("width", "20"); legSvg.setAttribute("height", "40");
legSvg.style.position = "absolute"; legSvg.style.left = "189px"; legSvg.style.top = "573px";
legSvg.innerHTML = `<circle cx="9.5" cy="9" r="2.8" fill="${INK}"/><circle cx="10" cy="32" r="2.4" fill="white" stroke="${INK}" stroke-width="0.9"/>`;
page.appendChild(legSvg);
legendLabels.forEach((t, i) => {
  const d = document.createElement("div");
  d.className = "legtxt";
  d.style.left = "208px";
  d.style.top = (570.5 + i * 23) + "px";
  d.textContent = t;
  page.appendChild(d);
});

// ---------- page frame ----------
function rule(l, t, w, h, col) {
  const r = document.createElement("div");
  r.className = "rule";
  Object.assign(r.style, {left: l + "px", top: t + "px", width: w + "px", height: h + "px"});
  if (col) r.style.background = col;
  page.appendChild(r);
}
rule(6, 3, 1002, 2);
rule(6, 3, 2, 892);
rule(903, 892, 105, 1.5, "#555");
</script>
</body></html>
